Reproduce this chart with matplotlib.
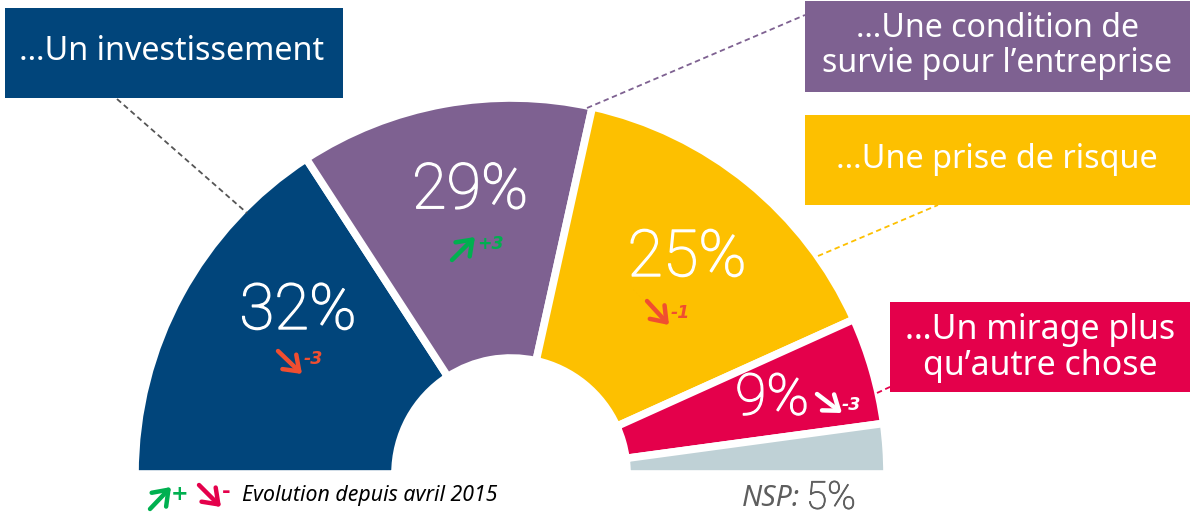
import matplotlib
matplotlib.use("Agg")
import matplotlib.pyplot as plt
import matplotlib.patheffects as pe
from matplotlib.patches import Rectangle

W, H = 1196, 519

# ---------------- data ----------------
categories = ["…Un investissement",
              "…Une condition de\nsurvie pour l’entreprise",
              "…Une prise de risque",
              "…Un mirage plus\nqu’autre chose",
              "NSP"]
values = [32, 29, 25, 9, 5]                     # printed percentages
arc_shares = [31.7, 25.3, 29.6, 9.2, 4.3]       # wedge sizes as drawn in the source
evolution = ["-3", "+3", "-1", "-3", None]
colors = ["#01457B", "#7E6191", "#FDC000", "#E4004B", "#BFD1D6"]
evo_colors = ["#F04E30", "#00B050", "#F04E30", "#FFFFFF", None]
legend_text = "Evolution depuis avril 2015"

# ---------------- figure ----------------
fig = plt.figure(figsize=(W / 100, H / 100), dpi=100)
ax = fig.add_axes([0, 0, 1, 1])


def Y(py):
    return H - py


CX, CY = 511, 474
R_OUT, R_IN = 376, 116
ax.pie(arc_shares + [sum(arc_shares)], colors=colors + ["none"],
       startangle=180, counterclock=False, center=(CX, Y(CY)), radius=R_OUT,
       wedgeprops=dict(width=R_OUT - R_IN, edgecolor="white", linewidth=5.5),
       frame=True)
ax.patches[-1].set_edgecolor("none")

ax.set_xlim(0, W)
ax.set_ylim(0, H)
ax.set_aspect("equal")
ax.axis("off")

box_font = ["Noto Sans", "DejaVu Sans"]
pct_font = ["Roboto", "DejaVu Sans"]

# ---------------- label boxes ----------------
boxes = [  # x0, y0(top), x1, y1(bottom) in pixels
    (5, 8, 343, 98),
    (805, 1, 1190, 92),
    (805, 115, 1190, 205),
    (890, 302, 1190, 392),
    None,
]
box_text_width = [305, 350, 322, 270, None]
for i, b in enumerate(boxes):
    if b is None:
        continue
    x0, y0, x1, y1 = b
    ax.add_patch(Rectangle((x0, Y(y1)), x1 - x0, y1 - y0, facecolor=colors[i],
                           edgecolor="none", zorder=3))

# leader lines (pixel coords)
leaders = [((117, 99), (247, 213), "#555555"),
           ((587, 108), (805, 15), "#7E6191"),
           ((818, 256), (938, 205), "#FDC000"),
           ((877, 393), (892, 386), "#E4004B")]
for (x0, y0), (x1, y1), c in leaders:
    ax.plot([x0, x1], [Y(y0), Y(y1)], color=c, lw=1.3, ls=(0, (3, 2)), zorder=1)

fig.canvas.draw()
renderer = fig.canvas.get_renderer()


def fit(t, width):
    bb = t.get_window_extent(renderer)
    t.set_fontsize(t.get_fontsize() * width / bb.width)


box_text_pos = [(172, 52), (997, 46), (997, 160), (1040, 348)]
for i, (tx, ty) in enumerate(box_text_pos):
    t = ax.text(tx, Y(ty), categories[i], color="white", ha="center", va="center",
                fontsize=20, family=box_font, linespacing=1.05, zorder=4)
    fit(t, box_text_width[i])

# ---------------- percentages ----------------
pct_pos = [(298, 311), (470, 191), (687, 258), (772, 399)]
pct_width = [117, 116, 119, 74]
thicken = [pe.withStroke(linewidth=1.0, foreground="white")]
for i, (px, py) in enumerate(pct_pos):
    t = ax.text(px, Y(py), f"{values[i]}%", color="white", ha="center", va="center",
                fontsize=40, family=pct_font, fontweight="light", zorder=5,
                path_effects=thicken)
    fit(t, pct_width[i])

# ---------------- evolution arrows ----------------
arrows = [((278, 351), (302, 374)),
          ((452, 260), (475, 237)),
          ((647, 301), (669, 325)),
          ((817, 394), (842, 413))]
evo_pos = [(304, 359), (477, 244), (671, 313), (842, 405)]
for i, ((tx, ty), (hx, hy)) in enumerate(arrows):
    ax.annotate("", xy=(hx, Y(hy)), xytext=(tx, Y(ty)),
                arrowprops=dict(arrowstyle="->,head_length=0.55,head_width=0.4",
                                lw=3.2, color=evo_colors[i], shrinkA=0, shrinkB=0,
                                mutation_scale=18), zorder=5)
    ax.text(evo_pos[i][0], Y(evo_pos[i][1]), evolution[i], color=evo_colors[i],
            ha="left", va="center", fontsize=12.5, fontweight="bold",
            style="italic", family="DejaVu Sans", zorder=5)

# ---------------- legend ----------------
ax.annotate("", xy=(171, Y(487)), xytext=(150, Y(509)),
            arrowprops=dict(arrowstyle="->,head_length=0.55,head_width=0.4", lw=3.2,
                            color="#00B050", shrinkA=0, shrinkB=0, mutation_scale=18))
ax.text(171, Y(494), "+", color="#00B050", ha="left", va="center", fontsize=15,
        fontweight="bold", family="DejaVu Sans")
ax.annotate("", xy=(221, Y(507)), xytext=(199, Y(485)),
            arrowprops=dict(arrowstyle="->,head_length=0.55,head_width=0.4", lw=3.2,
                            color="#E4004B", shrinkA=0, shrinkB=0, mutation_scale=18))
ax.text(222, Y(492), "-", color="#E4004B", ha="left", va="center", fontsize=15,
        fontweight="bold", family="DejaVu Sans")
t = ax.text(242, Y(495), legend_text, color="black", ha="left", va="center",
            fontsize=14, style="italic", family=box_font)
fit(t, 255)

# ---------------- NSP ----------------
t1 = ax.text(742, Y(498), "NSP:", color="#5E5E5E", ha="left", va="center",
             fontsize=18, style="italic", family=box_font)
fit(t1, 58)
t2 = ax.text(806, Y(498), f"{values[4]}%", color="#5E5E5E", ha="left", va="center",
             fontsize=18, family=pct_font, fontweight="light",
             path_effects=[pe.withStroke(linewidth=0.6, foreground="#5E5E5E")])
fit(t2, 50)

fig.savefig("out.png", dpi=100)
